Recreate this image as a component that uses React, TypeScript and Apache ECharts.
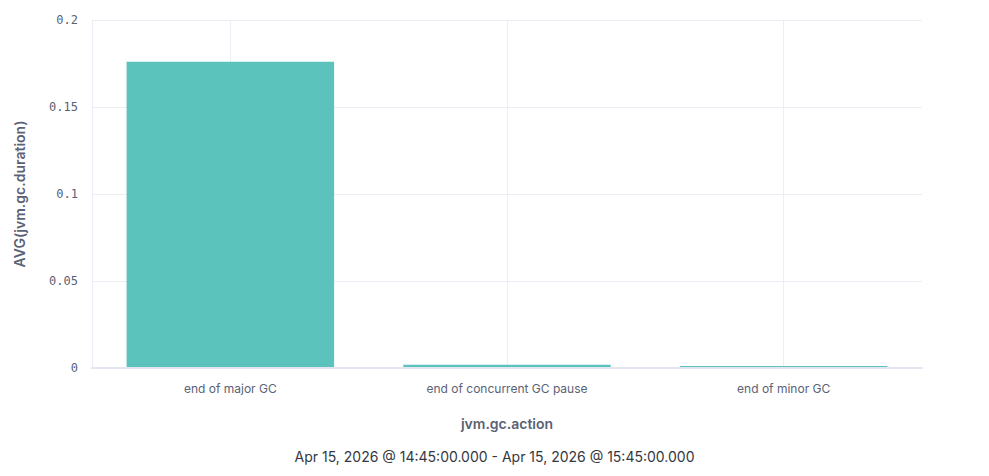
import React, { useEffect, useRef } from 'react';
import * as echarts from 'echarts';

const categories = ['end of major GC', 'end of concurrent GC pause', 'end of minor GC'];
const avgDuration = [0.176, 0.0018, 0.0012];
const yTicks = [0, 0.05, 0.1, 0.15, 0.2];
const timeRange = 'Apr 15, 2026 @ 14:45:00.000 - Apr 15, 2026 @ 15:45:00.000';

// half-steps across the category band, so the vertical grid can sit on category centres
const halfSteps = Array.from({ length: categories.length * 2 + 1 }, (_, i) => String(i));

const App: React.FC = () => {
  const chartRef = useRef<HTMLDivElement>(null);

  useEffect(() => {
    if (!chartRef.current) return;
    const chart = echarts.init(chartRef.current, null, { renderer: 'svg' });

    const option = {
      animation: false,
      backgroundColor: '#ffffff',
      grid: { left: 92, right: 67, top: 20, bottom: 108 },
      xAxis: [
        {
          type: 'category',
          data: categories,
          name: 'jvm.gc.action',
          nameLocation: 'middle',
          nameGap: 48,
          nameTextStyle: { fontFamily: 'Inter', fontSize: 14, fontWeight: 600, color: '#5a6275' },
          axisLine: { lineStyle: { color: '#e3e6ef', width: 2 } },
          axisTick: { show: false },
          axisLabel: { fontFamily: 'Inter', fontSize: 12, color: '#5a6275', margin: 14 },
          splitLine: { show: false },
          boundaryGap: true,
          z: 3,
        },
        {
          type: 'category',
          data: halfSteps,
          boundaryGap: false,
          position: 'bottom',
          axisLine: { show: false },
          axisTick: { show: false },
          axisLabel: { show: false },
          splitLine: {
            show: true,
            interval: (index: number) => index % 2 === 1,
            lineStyle: { color: '#eceef5', width: 1 },
          },
        },
      ],
      yAxis: {
        type: 'value',
        min: yTicks[0],
        max: yTicks[yTicks.length - 1],
        interval: 0.05,
        name: 'AVG(jvm.gc.duration)',
        nameLocation: 'middle',
        nameGap: 66,
        nameTextStyle: { fontFamily: 'Inter', fontSize: 14, fontWeight: 600, color: '#5a6275' },
        axisLine: { show: true, lineStyle: { color: '#eceef5', width: 1 } },
        axisTick: { show: false },
        axisLabel: {
          fontFamily: '"DejaVu Sans Mono", monospace',
          fontSize: 12,
          color: '#5a6275',
          margin: 14,
          formatter: (v: number) => String(v),
        },
        splitLine: { lineStyle: { color: '#eceef5', width: 1 } },
      },
      series: [
        {
          type: 'bar',
          xAxisIndex: 0,
          data: avgDuration,
          barWidth: '75%',
          itemStyle: { color: '#5bc2bc' },
        },
      ],
      graphic: [
        {
          type: 'text',
          left: 'center',
          top: 449,
          style: {
            text: timeRange,
            font: '14px Inter',
            fill: '#343741',
          },
        },
      ],
    };

    chart.setOption(option);
    return () => chart.dispose();
  }, []);

  return (
    <div
      ref={chartRef}
      style={{ position: 'fixed', left: 0, top: 0, width: 989, height: 476 }}
    />
  );
};

export default App;
